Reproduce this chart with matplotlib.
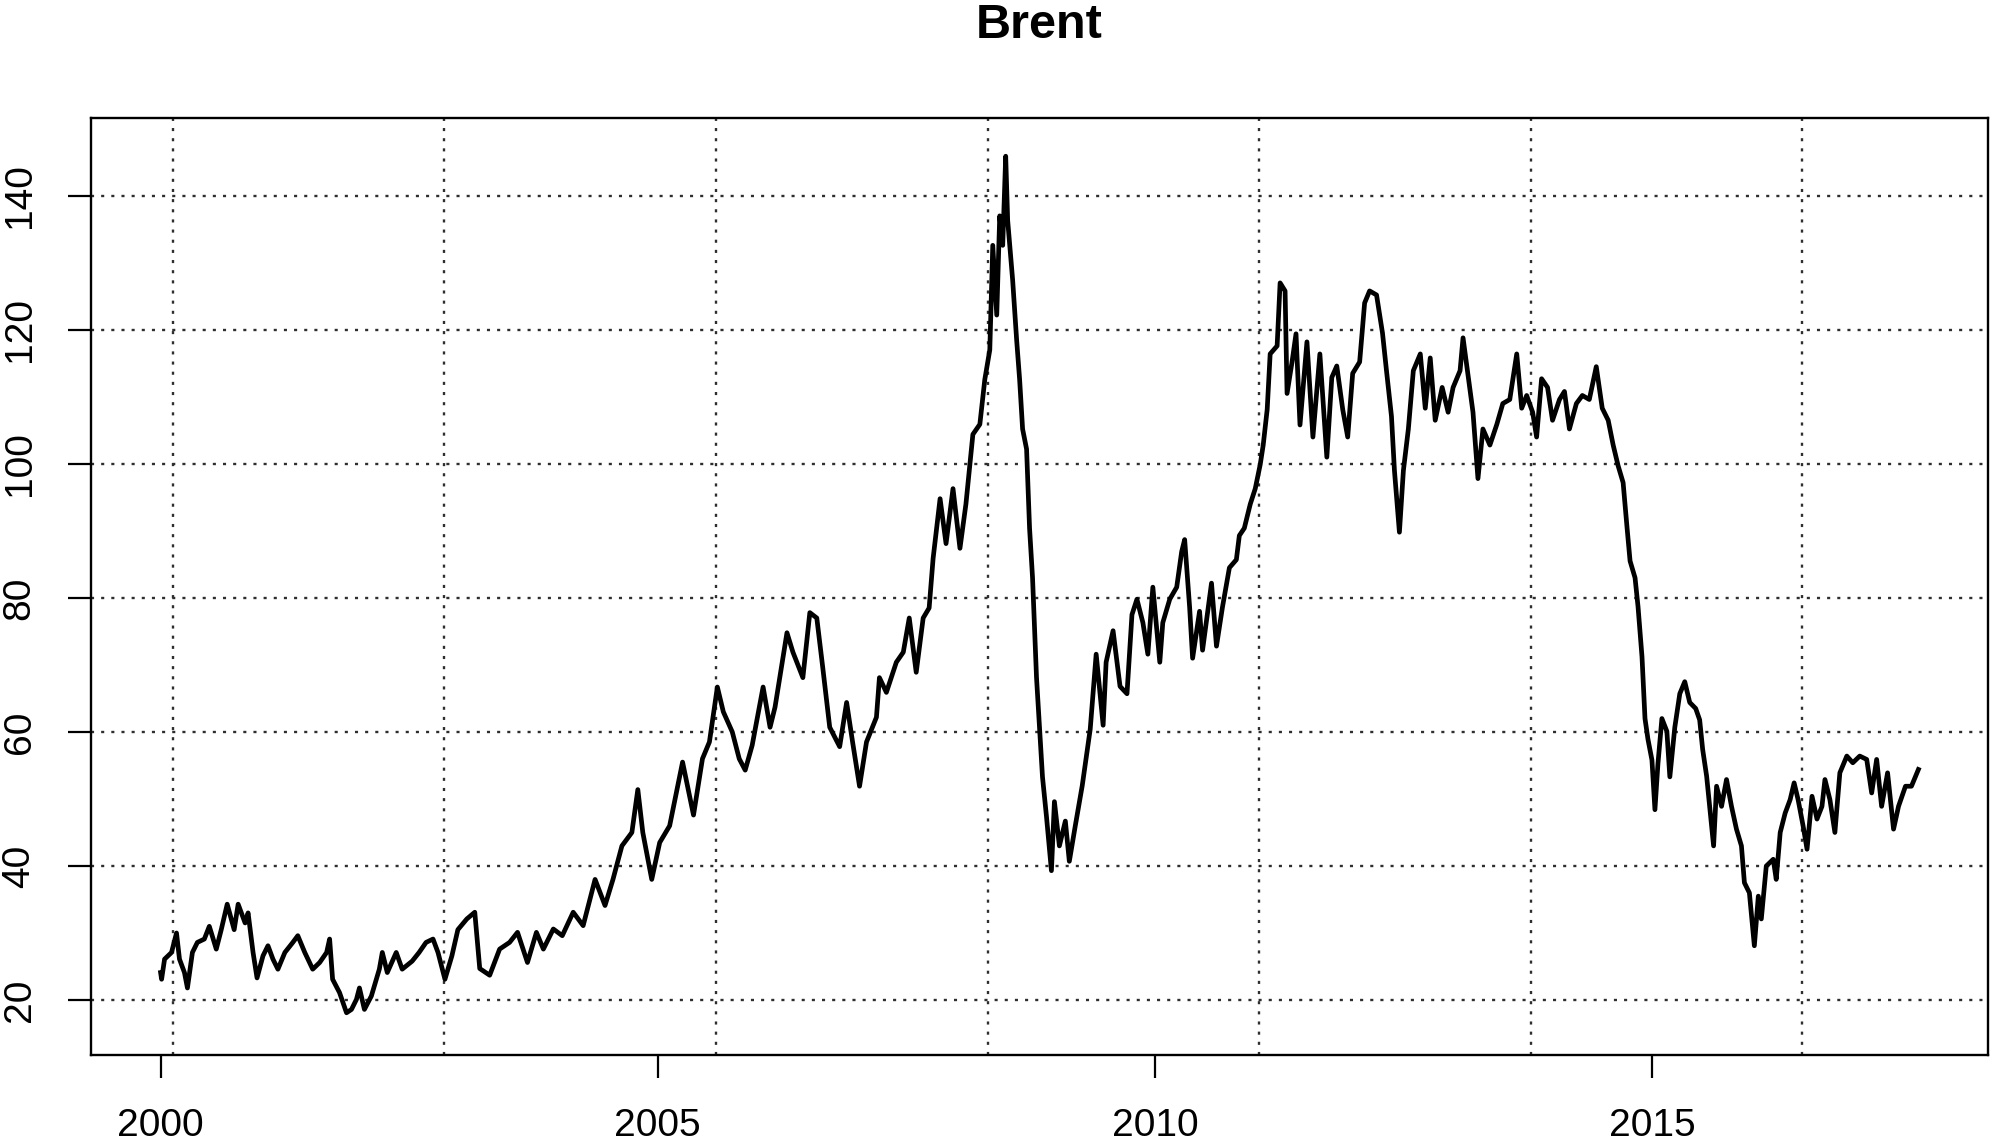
import matplotlib
matplotlib.use("Agg")
from matplotlib import pyplot as plt

# Brent spot price: decimal year and USD per barrel, by period
t_2000_2002 = [2000.00, 2000.01, 2000.04, 2000.11, 2000.16, 2000.19, 2000.24, 2000.27, 2000.32, 2000.37,
               2000.44, 2000.49, 2000.56, 2000.61, 2000.67, 2000.74, 2000.78, 2000.85, 2000.88, 2000.93,
               2000.97, 2001.03, 2001.08, 2001.13, 2001.18, 2001.25, 2001.33, 2001.38, 2001.45, 2001.53,
               2001.60, 2001.67, 2001.70, 2001.73, 2001.80, 2001.87, 2001.92, 2001.97, 2002.00, 2002.05,
               2002.12, 2002.20, 2002.23, 2002.28, 2002.37, 2002.43, 2002.53, 2002.60, 2002.67, 2002.74,
               2002.79, 2002.86, 2002.93, 2002.99]
p_2000_2002 = [24.1, 23.1, 26.1, 27.1, 30.0, 26.1, 24.1, 21.8, 27.1, 28.6,
               29.1, 31.0, 27.6, 30.5, 34.3, 30.5, 34.3, 31.5, 33.0, 27.1,
               23.3, 26.6, 28.1, 26.1, 24.6, 27.1, 28.6, 29.6, 27.1, 24.6,
               25.6, 27.1, 29.1, 23.1, 21.1, 18.1, 18.6, 20.1, 21.8, 18.6,
               20.6, 24.6, 27.1, 24.1, 27.1, 24.6, 25.8, 27.1, 28.6, 29.1,
               27.1, 23.1, 26.6, 30.5]

t_2003_2005 = [2003.08, 2003.16, 2003.21, 2003.31, 2003.41, 2003.51, 2003.59, 2003.69, 2003.78, 2003.85,
               2003.95, 2004.04, 2004.15, 2004.25, 2004.37, 2004.47, 2004.55, 2004.64, 2004.74, 2004.80,
               2004.85, 2004.94, 2005.02, 2005.12, 2005.25, 2005.36, 2005.45, 2005.52, 2005.60, 2005.66,
               2005.75, 2005.82, 2005.88, 2005.95]
p_2003_2005 = [32.1, 33.1, 24.7, 23.7, 27.6, 28.6, 30.1, 25.6, 30.1, 27.6,
               30.6, 29.6, 33.1, 31.1, 38.0, 34.1, 38.0, 43.0, 45.0, 51.4,
               45.0, 38.0, 43.5, 46.0, 55.5, 47.6, 56.0, 58.5, 66.7, 63.0,
               60.0, 56.0, 54.3, 58.0]

t_2006_2008 = [2006.06, 2006.13, 2006.18, 2006.30, 2006.36, 2006.46, 2006.53, 2006.60, 2006.66, 2006.73,
               2006.83, 2006.90, 2006.96, 2007.03, 2007.10, 2007.20, 2007.23, 2007.30, 2007.40, 2007.47,
               2007.53, 2007.60, 2007.67, 2007.73, 2007.77, 2007.84, 2007.90, 2007.97, 2008.04, 2008.10,
               2008.17, 2008.24, 2008.29, 2008.34, 2008.37, 2008.41, 2008.44, 2008.47, 2008.50]
p_2006_2008 = [66.7, 60.7, 63.7, 74.8, 71.9, 68.1, 77.8, 77.0, 69.6, 60.7,
               57.8, 64.4, 58.5, 51.9, 58.5, 62.2, 68.1, 65.9, 70.4, 71.9,
               77.0, 68.9, 77.0, 78.5, 85.9, 94.8, 88.1, 96.3, 87.4, 94.0,
               104.4, 105.9, 112.6, 117.0, 132.6, 122.2, 137.0, 132.6, 145.9]

t_2008_2010 = [2008.52, 2008.57, 2008.61, 2008.64, 2008.67, 2008.71, 2008.74, 2008.77, 2008.81, 2008.84,
               2008.87, 2008.91, 2008.96, 2008.99, 2009.04, 2009.10, 2009.14, 2009.20, 2009.27, 2009.35,
               2009.41, 2009.48, 2009.51, 2009.58, 2009.65, 2009.72, 2009.77, 2009.82, 2009.88, 2009.93,
               2009.98, 2010.05, 2010.08, 2010.15, 2010.22, 2010.27, 2010.30, 2010.35, 2010.38, 2010.45,
               2010.48, 2010.57, 2010.62, 2010.68, 2010.75, 2010.82, 2010.85, 2010.90, 2010.96, 2011.01]
p_2008_2010 = [136.3, 127.4, 118.5, 112.6, 105.2, 102.2, 90.4, 83.0, 68.1, 60.7,
               53.3, 47.4, 39.3, 49.6, 43.0, 46.7, 40.7, 46.0, 52.0, 60.4,
               71.6, 61.0, 70.4, 75.1, 66.8, 65.7, 77.5, 79.8, 76.3, 71.6,
               81.6, 70.4, 76.3, 79.8, 81.6, 86.9, 88.7, 78.6, 71.0, 78.0,
               72.2, 82.2, 72.8, 78.6, 84.5, 85.7, 89.3, 90.4, 94.0, 96.3]

t_2011_2014 = [2011.06, 2011.09, 2011.13, 2011.16, 2011.23, 2011.26, 2011.31, 2011.33, 2011.38, 2011.42,
               2011.46, 2011.53, 2011.59, 2011.66, 2011.73, 2011.78, 2011.83, 2011.89, 2011.94, 2011.99,
               2012.06, 2012.11, 2012.16, 2012.23, 2012.29, 2012.33, 2012.38, 2012.41, 2012.46, 2012.50,
               2012.55, 2012.60, 2012.67, 2012.72, 2012.77, 2012.82, 2012.89, 2012.95, 2013.00, 2013.07,
               2013.10, 2013.15, 2013.20, 2013.25, 2013.30, 2013.37, 2013.44, 2013.50, 2013.57, 2013.64,
               2013.69, 2013.74, 2013.80, 2013.84, 2013.89, 2013.95, 2014.00, 2014.07, 2014.12, 2014.17,
               2014.24, 2014.30, 2014.37, 2014.44]
p_2011_2014 = [99.9, 102.8, 108.1, 116.4, 117.6, 127.0, 125.8, 110.5, 115.2, 119.4,
               105.8, 118.2, 104.0, 116.4, 101.0, 112.9, 114.6, 108.1, 104.0, 113.5,
               115.2, 124.0, 125.8, 125.2, 119.5, 113.9, 107.1, 99.0, 89.8, 99.0,
               105.2, 113.9, 116.4, 108.3, 115.8, 106.5, 111.4, 107.7, 111.4, 113.9,
               118.8, 113.3, 107.7, 97.8, 105.2, 102.8, 105.9, 109.0, 109.6, 116.4,
               108.3, 110.2, 107.7, 104.0, 112.7, 111.4, 106.5, 109.6, 110.8, 105.2,
               109.0, 110.2, 109.6, 114.5]

t_2014_2017 = [2014.50, 2014.56, 2014.61, 2014.66, 2014.71, 2014.75, 2014.78, 2014.83, 2014.86, 2014.90,
               2014.93, 2014.96, 2015.00, 2015.03, 2015.06, 2015.10, 2015.15, 2015.18, 2015.23, 2015.28,
               2015.33, 2015.38, 2015.44, 2015.48, 2015.51, 2015.55, 2015.58, 2015.62, 2015.65, 2015.70,
               2015.75, 2015.80, 2015.85, 2015.90, 2015.93, 2015.98, 2016.03, 2016.07, 2016.10, 2016.15,
               2016.22, 2016.25, 2016.29, 2016.34, 2016.39, 2016.43, 2016.47, 2016.52, 2016.56, 2016.61,
               2016.66, 2016.71, 2016.74, 2016.79, 2016.84, 2016.89, 2016.96, 2017.02, 2017.09, 2017.16,
               2017.21, 2017.26, 2017.31, 2017.37, 2017.43, 2017.48, 2017.55, 2017.61, 2017.68]
p_2014_2017 = [108.3, 106.5, 102.8, 99.7, 97.2, 90.4, 85.5, 83.0, 78.7, 71.2,
               62.0, 58.9, 55.8, 48.4, 55.2, 62.0, 60.1, 53.3, 60.7, 65.7,
               67.5, 64.4, 63.5, 61.8, 57.4, 53.4, 48.9, 43.0, 51.9, 48.9,
               52.9, 48.9, 45.5, 43.0, 37.5, 36.0, 28.1, 35.5, 32.1, 40.0,
               41.0, 38.0, 45.0, 47.9, 49.9, 52.4, 49.9, 46.0, 42.5, 50.4,
               47.0, 48.9, 52.9, 49.9, 45.0, 53.9, 56.4, 55.4, 56.4, 55.9,
               50.9, 55.9, 48.9, 53.9, 45.5, 48.9, 51.9, 51.9, 54.4]

year_ticks = [2000, 2005, 2010, 2015]
price_ticks = [20, 40, 60, 80, 100, 120, 140]
grid_years = [2000.12, 2002.85, 2005.59, 2008.32, 2011.05, 2013.78, 2016.51]

t = t_2000_2002 + t_2003_2005 + t_2006_2008 + t_2008_2010 + t_2011_2014 + t_2014_2017
price = p_2000_2002 + p_2003_2005 + p_2006_2008 + p_2008_2010 + p_2011_2014 + p_2014_2017

plt.rcParams['font.family'] = ['Liberation Sans', 'DejaVu Sans']

W, H = 1996, 1147
fig = plt.figure(figsize=(W / 100, H / 100), dpi=100)
ax = fig.add_axes([91 / W, 1 - 1055 / H, (1988 - 91) / W, (1055 - 118) / H])

grid_kw = dict(color='#2e2e2e', lw=1.7, dashes=(1.3, 3.0), zorder=1)
for g in grid_years:
    ax.axvline(g, **grid_kw)
for v in price_ticks:
    ax.axhline(v, **grid_kw)

ax.plot(t, price, color='black', lw=3.4, zorder=3)

ax.set_xlim(1999.30, 2018.38)
ax.set_ylim(11.8, 151.6)
ax.set_xticks(year_ticks)
ax.set_xticklabels([str(y) for y in year_ticks])
ax.set_yticks(price_ticks)
ax.set_yticklabels([str(v) for v in price_ticks], rotation=90, va='center')
ax.tick_params(length=16.5, width=1.6, labelsize=28, pad=22, color='black')
for s in ax.spines.values():
    s.set_linewidth(1.7)

fig.text(1039.5 / W, 1 - 25 / H, 'Brent', ha='center', va='center',
         fontsize=35, fontweight='bold')

fig.savefig('out.png', dpi=100)
